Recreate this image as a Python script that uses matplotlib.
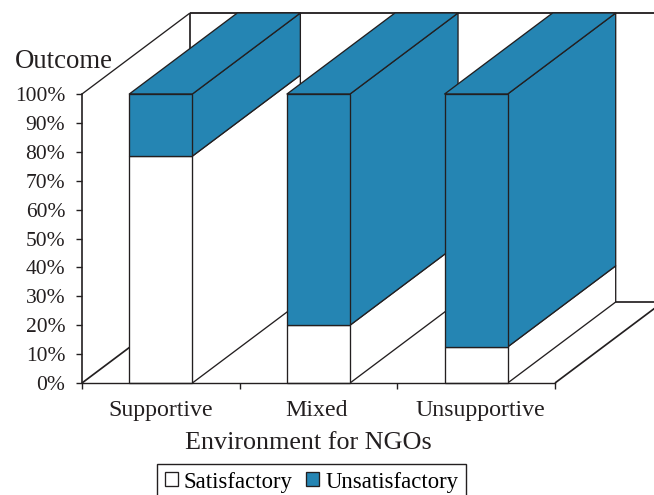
import matplotlib
matplotlib.use('Agg')
import matplotlib.pyplot as plt
from matplotlib.patches import Polygon

categories = ['Supportive', 'Mixed', 'Unsupportive']
satisfactory = [78.5, 20, 12.5]
unsatisfactory = [21.5, 80, 87.5]
y_ticks = [0, 10, 20, 30, 40, 50, 60, 70, 80, 90, 100]

BLUE = '#2585b3'
INK = '#231f20'
DEPTH_X = 108 / 157.67  # 3d offset, in category widths
DEPTH_Y = 81 / 2.89     # 3d offset, in percent
BAR_W = 0.4
LW = 0.95

plt.rcParams['font.family'] = ['Liberation Serif', 'DejaVu Serif']

fig = plt.figure(figsize=(6.54, 4.95), dpi=100)
ax = fig.add_axes([82 / 654, (495 - 383) / 495, 473 / 654, 289 / 495])
ax.set_xlim(0, 3)
ax.set_ylim(0, 100)
ax.patch.set_visible(False)

# ── Back wall and floor ────────────────────────────────────────────────
wall = dict(color=INK, clip_on=False, zorder=1, solid_capstyle='butt')
ax.plot([0, DEPTH_X], [100, 100 + DEPTH_Y], lw=LW, **wall)
ax.plot([DEPTH_X, DEPTH_X], [DEPTH_Y, 100 + DEPTH_Y], lw=LW * 1.3, **wall)
ax.plot([DEPTH_X, 3 + DEPTH_X], [100 + DEPTH_Y] * 2, lw=LW * 1.4, **wall)
ax.plot([DEPTH_X, 3 + DEPTH_X], [DEPTH_Y] * 2, lw=LW * 1.3, **wall)
ax.plot([0, DEPTH_X], [0, DEPTH_Y], lw=LW * 1.3, **wall)
ax.plot([3, 3 + DEPTH_X], [0, DEPTH_Y], lw=LW * 1.3, **wall)


def add_face(points, color, z):
    ax.add_patch(Polygon(points, closed=True, facecolor=color, edgecolor=INK,
                         linewidth=LW, joinstyle='round', clip_on=False, zorder=z))


# ── Bars, painted left to right so nearer ones cover the back edges ────
for i, (low, high) in enumerate(zip(satisfactory, unsatisfactory)):
    z = 2 + i
    left = i + 0.5 - BAR_W / 2
    right = left + BAR_W
    top = low + high
    # side faces
    add_face([(right, 0), (right + DEPTH_X, DEPTH_Y),
              (right + DEPTH_X, low + DEPTH_Y), (right, low)], 'white', z)
    add_face([(right, low), (right + DEPTH_X, low + DEPTH_Y),
              (right + DEPTH_X, top + DEPTH_Y), (right, top)], BLUE, z)
    # top face
    add_face([(left, top), (right, top),
              (right + DEPTH_X, top + DEPTH_Y), (left + DEPTH_X, top + DEPTH_Y)], BLUE, z)
    # front faces
    bar_low = ax.bar(i + 0.5, low, BAR_W, color='white', edgecolor=INK, linewidth=LW,
                     zorder=z, clip_on=False, label='Satisfactory' if i == 0 else None)
    bar_high = ax.bar(i + 0.5, high, BAR_W, bottom=low, color=BLUE, edgecolor=INK, linewidth=LW,
                      zorder=z, clip_on=False, label='Unsatisfactory' if i == 0 else None)

# ── Axes ───────────────────────────────────────────────────────────────
for side in ['top', 'right']:
    ax.spines[side].set_visible(False)
ax.spines['left'].set_linewidth(1.2)
ax.spines['bottom'].set_linewidth(1.0)
ax.spines['left'].set_color(INK)
ax.spines['bottom'].set_color(INK)
ax.spines['left'].set_zorder(6)
ax.spines['bottom'].set_zorder(6)

ax.set_yticks(y_ticks)
ax.set_yticklabels([f'{v}%' for v in y_ticks], fontsize=15.5, color=INK)
ax.set_xticks([0, 1, 2, 3])
ax.set_xticklabels([])
ax.tick_params(axis='y', length=4, width=1.0, color=INK, pad=8)
ax.tick_params(axis='x', length=4, width=1.0, color=INK)

for i, name in enumerate(categories):
    # labels sit a little left of the category centres
    ax.annotate(name, (i + 0.5, 0), xytext=([0, -2, 4][i], -17), textcoords='offset pixels',
                ha='center', va='top', fontsize=17.2, color=INK, annotation_clip=False)

fig.text(63.5 / 654, 1 - 61 / 495, 'Outcome', ha='center', va='center', fontsize=19.3, color=INK)
fig.text(308.5 / 654, 1 - 443 / 495, 'Environment for NGOs', ha='center', va='center',
         fontsize=18.8, color=INK)

# ── Legend (its lower edge runs off the picture) ───────────────────────
handles, labels = ax.get_legend_handles_labels()
leg = fig.legend(handles, labels, loc='upper left', bbox_to_anchor=(157 / 654, 1 - 464 / 495),
                 ncol=2, fontsize=16.4, frameon=True, fancybox=False, edgecolor=INK, framealpha=1,
                 handlelength=0.57, handleheight=0.57, handletextpad=0.26, columnspacing=0.62,
                 borderpad=0.33, borderaxespad=0)
leg.get_frame().set_linewidth(1.0)

fig.savefig('out.png', dpi=100)
